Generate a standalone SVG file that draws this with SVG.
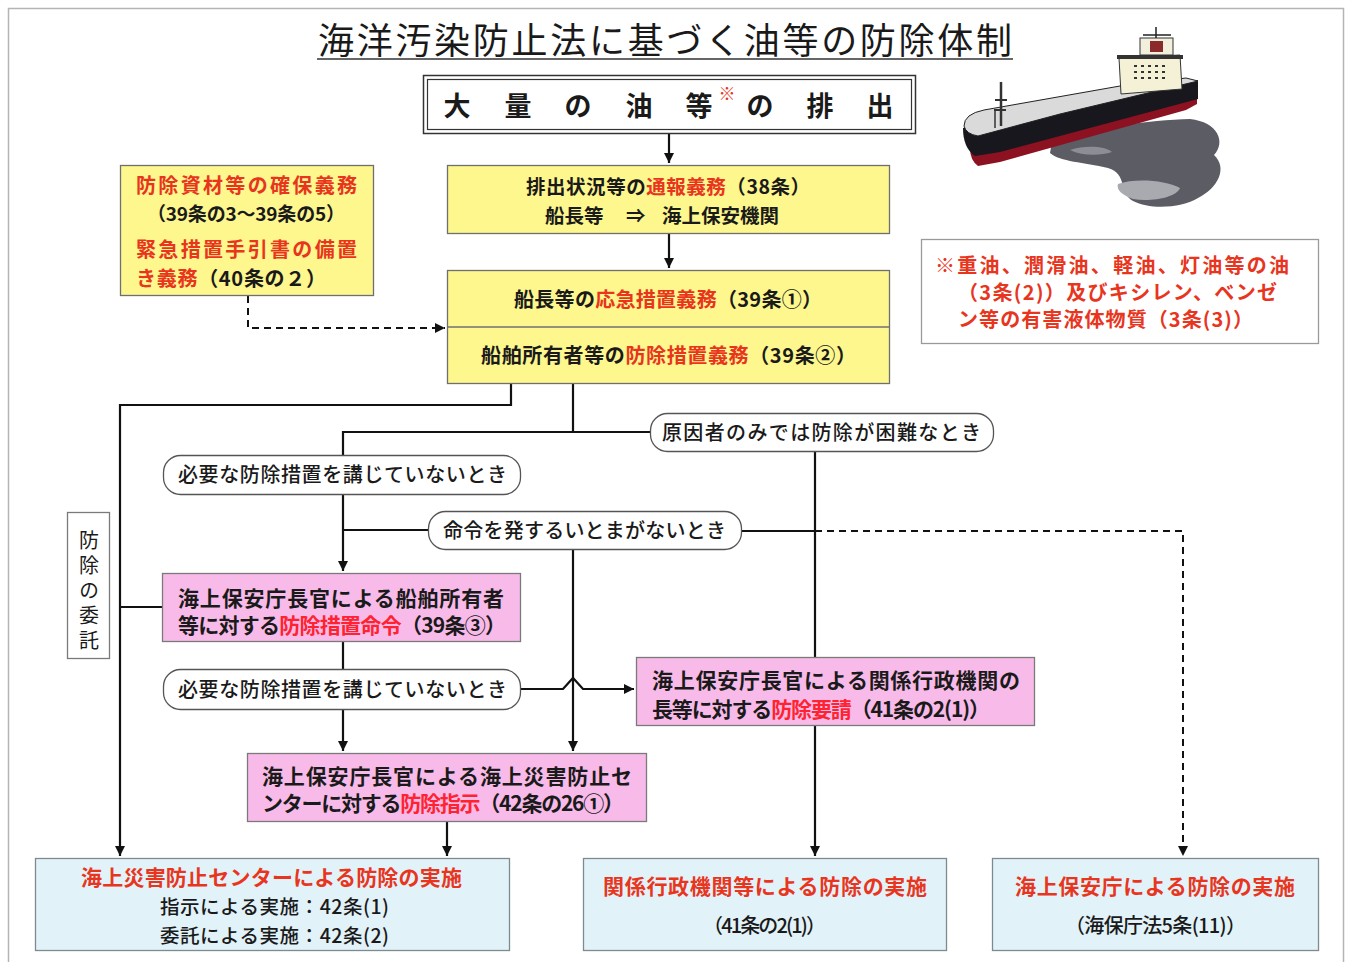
<svg xmlns="http://www.w3.org/2000/svg" width="1350" height="962" viewBox="0 0 1350 962">
  <defs>
    <marker id="ah" viewBox="0 0 10 10" refX="10" refY="5" markerWidth="10" markerHeight="10" markerUnits="userSpaceOnUse" orient="auto">
      <path d="M0,0 L10,5 L0,10 Z" fill="#111"/>
    </marker>
    <style>
      text{font-family:"Noto Sans CJK JP","Noto Sans CJK SC",sans-serif;fill:#1a1a1a}
      .b{font-weight:bold}
      .n{font-weight:normal}
      .m{font-weight:500}
      .r{fill:#e8351e}
      .rp{fill:#ff2230}
      .yel{fill:#fdf78e;stroke:#6f6f6f;stroke-width:1.3}
      .pink{fill:#f8bbe9;stroke:#7a7a7a;stroke-width:1.3}
      .blue{fill:#e2f2f9;stroke:#7d8a90;stroke-width:1.3}
      .pill{fill:#fff;stroke:#555;stroke-width:1.3}
      .ln{fill:none;stroke:#111;stroke-width:2.2}
      .dash{fill:none;stroke:#111;stroke-width:2;stroke-dasharray:7 5}
    </style>
  </defs>

  <rect x="0" y="0" width="1350" height="962" fill="#fff"/>
  <rect x="8.5" y="8.5" width="1335" height="965" fill="none" stroke="#b4b4b4" stroke-width="1.5"/>

  <!-- title -->
  <g id="title">
    <text x="318" y="54" font-size="36" class="n" textLength="694">海洋汚染防止法に基づく油等の防除体制</text>
    <line x1="317" y1="59" x2="1013" y2="59" stroke="#333" stroke-width="1.6"/>
  </g>

  <!-- tanker with oil slick -->
  <g id="ship">
    <path d="M1052,142 C1090,128 1150,120 1190,119 C1218,122 1226,142 1214,155 C1228,168 1218,188 1198,198 C1182,208 1150,210 1133,201 C1118,192 1128,174 1108,168 C1084,162 1060,162 1050,153 Z" fill="#5c5c64"/>
    <path d="M1118,184 C1135,178 1165,180 1180,188 C1176,198 1150,202 1133,199 C1122,195 1116,190 1118,184 Z" fill="#a9a9b0"/>
    <path d="M1070,150 C1085,145 1105,146 1112,152 C1100,156 1082,156 1070,150 Z" fill="#8d8d95"/>
    <!-- red bottom -->
    <path d="M970,148 L1197,97 L1197,104 L1186,110 L1000,162 L978,166 Q970,160 970,148 Z" fill="#8c1222"/>
    <!-- black hull side -->
    <path d="M963,128 L1198,80 L1198,99 L1000,152 L975,156 Q963,148 963,128 Z" fill="#17171d"/>
    <!-- deck -->
    <path d="M964,126 Q964,114 984,110 L1120,86 L1186,78 L1198,81 L1060,114 L978,136 Q966,134 964,126 Z" fill="#dadada" stroke="#222" stroke-width="1"/>
    <!-- superstructure -->
    <path d="M1119,58 L1180,55 L1182,89 L1121,94 Z" fill="#f4f1d6" stroke="#333" stroke-width="1"/>
    <rect x="1117" y="55" width="66" height="4" fill="#333"/>
    <rect x="1140" y="38" width="33" height="17" fill="#f2f0dc" stroke="#333" stroke-width="1"/>
    <rect x="1150" y="41" width="13" height="11" fill="#8a2a2a"/>
    <line x1="1156" y1="27" x2="1156" y2="38" stroke="#222" stroke-width="1.5"/>
    <line x1="1143" y1="35" x2="1171" y2="35" stroke="#222" stroke-width="1.5"/>
    <g fill="#333">
      <rect x="1134" y="65" width="3" height="2"/><rect x="1141" y="65" width="3" height="2"/><rect x="1148" y="65" width="3" height="2"/><rect x="1155" y="65" width="3" height="2"/><rect x="1162" y="65" width="3" height="2"/>
      <rect x="1134" y="71" width="3" height="2"/><rect x="1141" y="71" width="3" height="2"/><rect x="1148" y="71" width="3" height="2"/><rect x="1155" y="71" width="3" height="2"/><rect x="1162" y="71" width="3" height="2"/>
      <rect x="1134" y="77" width="3" height="2"/><rect x="1141" y="77" width="3" height="2"/><rect x="1148" y="77" width="3" height="2"/><rect x="1155" y="77" width="3" height="2"/><rect x="1162" y="77" width="3" height="2"/>
    </g>
    <!-- fore mast -->
    <line x1="1001" y1="82" x2="1001" y2="126" stroke="#333" stroke-width="2.5"/>
    <line x1="995" y1="100" x2="1007" y2="100" stroke="#333" stroke-width="2"/>
    <line x1="994" y1="110" x2="1006" y2="110" stroke="#333" stroke-width="2"/>
    <line x1="995" y1="110" x2="995" y2="128" stroke="#333" stroke-width="1.5"/>
  </g>

  <!-- connectors -->
  <g id="connectors">
    <path class="ln" d="M669,133 V163" marker-end="url(#ah)"/>
    <path class="ln" d="M669,233 V268" marker-end="url(#ah)"/>
    <path class="dash" d="M248,296 V328 H445" marker-end="url(#ah)"/>
    <path class="ln" d="M511,383 V405 H120 V856" marker-end="url(#ah)"/>
    <path class="ln" d="M162,607 H120"/>
    <path class="ln" d="M573,383 V432"/>
    <path class="ln" d="M343,455 V432 H650"/>
    <path class="ln" d="M343,494 V571" marker-end="url(#ah)"/>
    <path class="ln" d="M343,530 H428"/>
    <path class="ln" d="M741,531 H815"/>
    <path class="dash" d="M815,531 H1183 V856" marker-end="url(#ah)"/>
    <path class="ln" d="M815,451 V856" marker-end="url(#ah)"/>
    <path class="ln" d="M573,549 V751" marker-end="url(#ah)"/>
    <path class="ln" d="M343,641 V669"/>
    <path class="ln" d="M343,709 V751" marker-end="url(#ah)"/>
    <path class="ln" d="M521,689 H563 L573,678 L583,689 H634" marker-end="url(#ah)"/>
    <path class="ln" d="M447,821 V856" marker-end="url(#ah)"/>
  </g>

  <!-- discharge -->
  <g id="discharge">
    <rect x="423.5" y="75.5" width="492" height="58" fill="#fff" stroke="#333" stroke-width="1.5"/>
    <rect x="427.5" y="79.5" width="484" height="50" fill="none" stroke="#333" stroke-width="1.2"/>
    <g class="b" font-size="27" text-anchor="middle">
      <text x="457" y="116">大</text>
      <text x="518" y="116">量</text>
      <text x="578" y="116">の</text>
      <text x="639" y="116">油</text>
      <text x="699" y="116">等</text>
      <text x="760" y="116">の</text>
      <text x="820" y="116">排</text>
      <text x="880" y="116">出</text>
    </g>
    <text x="727" y="100" font-size="17" class="n r" text-anchor="middle">※</text>
  </g>

  <!-- report duty -->
  <g id="report">
    <rect class="yel" x="447.5" y="165.5" width="442" height="68"/>
    <text x="526" y="194" font-size="19.5" class="b" textLength="284">排出状況等の<tspan class="r">通報義務</tspan>（38条）</text>
    <text y="223" font-size="19.5" class="b"><tspan x="545">船長等</tspan><tspan x="626">⇒</tspan><tspan x="662">海上保安機関</tspan></text>
  </g>

  <!-- emergency / prevention duty -->
  <g id="duties">
    <rect class="yel" x="447.5" y="270.5" width="442" height="113"/>
    <line x1="447.5" y1="327" x2="889.5" y2="327" stroke="#6f6f6f" stroke-width="1.3"/>
    <text x="514" y="307" font-size="20" class="b" textLength="308">船長等の<tspan class="r">応急措置義務</tspan>（39条①）</text>
    <text x="481" y="363" font-size="20" class="b" textLength="375">船舶所有者等の<tspan class="r">防除措置義務</tspan>（39条②）</text>
  </g>

  <!-- materials duty -->
  <g id="materials">
    <rect class="yel" x="120.5" y="165.5" width="253" height="130"/>
    <text x="136" y="193" font-size="20" class="b r" textLength="221">防除資材等の確保義務</text>
    <text x="147" y="221" font-size="19" class="b" textLength="198">（39条の3～39条の5）</text>
    <text x="136" y="257" font-size="20" class="b r" textLength="221">緊急措置手引書の備置</text>
    <text x="136" y="286" font-size="20" class="b" textLength="190"><tspan class="r">き義務</tspan>（40条の２）</text>
  </g>

  <!-- note -->
  <g id="note">
    <rect x="921.5" y="239.5" width="397" height="104" fill="#fff" stroke="#9a9a9a" stroke-width="1.3"/>
    <text x="935" y="273" font-size="20" class="b r" textLength="354">※重油、潤滑油、軽油、灯油等の油</text>
    <text x="958" y="300" font-size="20" class="b r" textLength="319">（3条(2)）及びキシレン、ベンゼ</text>
    <text x="958" y="327" font-size="20" class="b r" textLength="295">ン等の有害液体物質（3条(3)）</text>
  </g>

  <!-- condition labels -->
  <g id="cond-difficult">
    <rect class="pill" x="650.5" y="413.5" width="343" height="38" rx="17"/>
    <text x="662" y="440" font-size="20" class="m" textLength="319">原因者のみでは防除が困難なとき</text>
  </g>
  <g id="cond-no-measure-1">
    <rect class="pill" x="163.5" y="455.5" width="357" height="39" rx="17"/>
    <text x="178" y="482" font-size="20" class="m" textLength="329">必要な防除措置を講じていないとき</text>
  </g>
  <g id="cond-no-time">
    <rect class="pill" x="428.5" y="511.5" width="313" height="38" rx="17"/>
    <text x="443" y="538" font-size="20" class="m" textLength="283">命令を発するいとまがないとき</text>
  </g>
  <g id="cond-no-measure-2">
    <rect class="pill" x="163.5" y="669.5" width="357" height="40" rx="17"/>
    <text x="178" y="697" font-size="20" class="m" textLength="329">必要な防除措置を講じていないとき</text>
  </g>

  <!-- entrustment label -->
  <g id="entrust">
    <rect x="67.5" y="512.5" width="42" height="146" fill="#fff" stroke="#7a7a7a" stroke-width="1.3"/>
    <text x="89" y="530" font-size="20" class="n" writing-mode="tb" letter-spacing="5">防除の委託</text>
  </g>

  <!-- orders -->
  <g id="order-owner">
    <rect class="pink" x="162.5" y="573.5" width="358" height="68"/>
    <text x="178" y="606" font-size="21" class="b" textLength="326">海上保安庁長官による船舶所有者</text>
    <text x="178" y="633" font-size="21" class="b" textLength="328">等に対する<tspan class="rp">防除措置命令</tspan>（39条③）</text>
  </g>
  <g id="request-agency">
    <rect class="pink" x="636.5" y="657.5" width="398" height="68"/>
    <text x="652" y="688" font-size="21" class="b" textLength="368">海上保安庁長官による関係行政機関の</text>
    <text x="652" y="717" font-size="21" class="b" textLength="338">長等に対する<tspan class="rp">防除要請</tspan>（41条の2(1)）</text>
  </g>
  <g id="instruct-center">
    <rect class="pink" x="247.5" y="753.5" width="399" height="68"/>
    <text x="262" y="784" font-size="21" class="b" textLength="370">海上保安庁長官による海上災害防止セ</text>
    <text x="262" y="811" font-size="21" class="b" textLength="362">ンターに対する<tspan class="rp">防除指示</tspan>（42条の26①）</text>
  </g>

  <!-- implementation -->
  <g id="impl-center">
    <rect class="blue" x="35.5" y="858.5" width="474" height="92"/>
    <text x="81" y="885" font-size="21" class="b r" textLength="381">海上災害防止センターによる防除の実施</text>
    <text x="160" y="914" font-size="19.5" class="m" textLength="229">指示による実施：42条(1)</text>
    <text x="160" y="942.5" font-size="19.5" class="m" textLength="229">委託による実施：42条(2)</text>
  </g>
  <g id="impl-agency">
    <rect class="blue" x="583.5" y="858.5" width="363" height="92"/>
    <text x="603" y="894" font-size="21" class="b r" textLength="324">関係行政機関等による防除の実施</text>
    <text x="703" y="933" font-size="20" class="m" textLength="123">（41条の2(1)）</text>
  </g>
  <g id="impl-jcg">
    <rect class="blue" x="992.5" y="858.5" width="326" height="92"/>
    <text x="1015" y="894" font-size="21" class="b r" textLength="280">海上保安庁による防除の実施</text>
    <text x="1065" y="933" font-size="20" class="m" textLength="181">（海保庁法5条(11)）</text>
  </g>
</svg>
